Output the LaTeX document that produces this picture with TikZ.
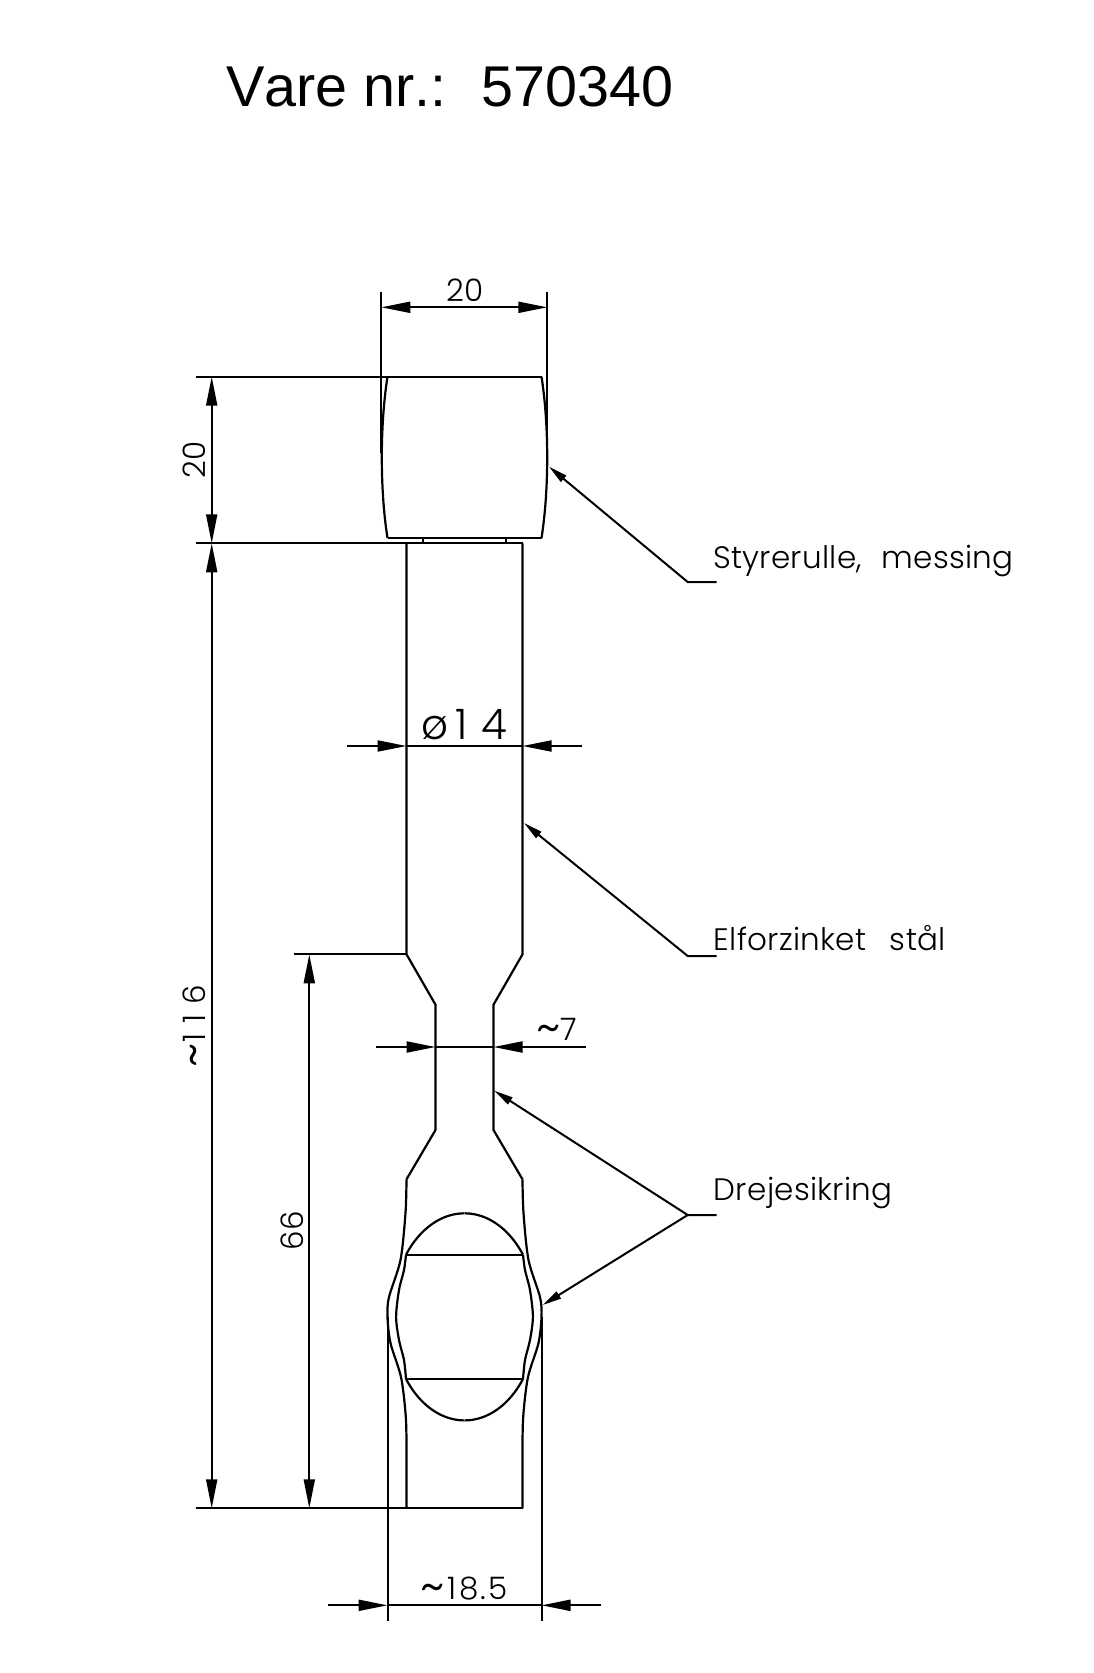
\documentclass[tikz,border=0pt]{standalone}
\usepackage{fontspec}
\setmainfont[LetterSpace=1]{Poppins Light}
\newfontfamily\titlefont[Kerning=Off]{Liberation Sans}
\usetikzlibrary{arrows.meta}
\newcommand{\tildemark}{\raisebox{-4pt}{\fontsize{50}{50}\selectfont\char`\~}}
\tikzset{
    part/.style={line width=2.2pt, line join=miter},
    dimline/.style={line width=2pt, {Triangle[length=29pt,width=11pt]}-{Triangle[length=29pt,width=11pt]}},
    dimtip/.style={line width=2pt, -{Triangle[length=29pt,width=11pt]}},
    leader/.style={line width=2pt, -{Triangle[length=19pt,width=8pt]}},
    extline/.style={line width=2pt},
    dimtext/.style={font=\fontsize{31}{31}\selectfont, inner sep=0pt, anchor=base},
    calltext/.style={font=\fontsize{31}{31}\selectfont, inner sep=0pt, anchor=base west}
}
\begin{document}
\begin{tikzpicture}[x=1pt, y=-1pt]
    \useasboundingbox (0,0) rectangle (1093,1673);

    \node[inner sep=0pt, anchor=base west, font=\titlefont\fontsize{57.5}{57.5}\selectfont] (title) at (226,106.7) {Vare nr.:\ \ \kern3pt570340};

    % roller, shaft and eye are mirrored about the axis
    \foreach \s in {1,-1} {
        \begin{scope}[shift={(464.5,0)}, xscale=\s]
            \draw[part] (77,376.7) .. controls (84.6,425) and (84.6,490) .. (77,538);
            \draw[part] (41.5,538) -- (41.5,543.3);
            \draw[part] (58,543.3) -- (58,954.3) -- (29,1004.7) -- (29,1130) -- (58,1179.3);
            \draw[part] plot[smooth] coordinates {(58,1179.3) (59,1213) (64,1260) (75.5,1297) (77,1317) (74,1343) (63.5,1377) (59,1413) (58,1443) (58,1508.3)};
            \draw[part] plot[smooth] coordinates {(58.5,1254.7) (60.5,1270) (65.5,1290) (68.4,1316.7) (65.5,1340) (60.5,1360) (58.5,1379)};
            \draw[part] (58.5,1254.7) arc[start angle=-36.87, end angle=-90, x radius=73, y radius=103.5];
            \draw[part] (58.5,1379) arc[start angle=36.87, end angle=90, x radius=73, y radius=103.5];
        \end{scope}
    }
    \draw[part] (387.5,538) -- (541.5,538);
    \draw[part] (406,1254.7) -- (523,1254.7);
    \draw[part] (406,1379) -- (523,1379);

    % extension lines
    \draw[extline] (195.7,376.7) -- (541.5,376.7);
    \draw[extline] (195.7,543.3) -- (522.5,543.3);
    \draw[extline] (195.7,1508.3) -- (522.5,1508.3);
    \draw[extline] (294,954.3) -- (406.5,954.3);
    \draw[extline] (381.3,291.7) -- (381.3,453);
    \draw[extline] (547.3,291.7) -- (547.3,453);
    \draw[extline] (387.5,1317) -- (387.5,1621.3);
    \draw[extline] (541.5,1317) -- (541.5,1621.3);

    % dimensions
    \coordinate (topA) at (381.3,307.3);
    \coordinate (topB) at (547.3,307.3);
    \draw[dimline] (topA) -- (topB);
    \node[dimtext] (widthlabel) at (464.7,301.7) {20};

    \coordinate (sideA) at (211.7,376.7);
    \coordinate (sideB) at (211.7,543.3);
    \coordinate (sideC) at (211.7,1508.3);
    \draw[dimline] (sideA) -- (sideB);
    \draw[dimline] (sideB) -- (sideC);
    \node[dimtext, rotate=90] (heightlabel) at (205,460) {20};
    \node[dimtext, rotate=90] (lengthlabel) at (205,1026) {\tildemark1\,\,1\,\,6};

    \coordinate (neckA) at (309.3,954.3);
    \coordinate (neckB) at (309.3,1508.3);
    \draw[dimline] (neckA) -- (neckB);
    \node[dimtext, rotate=90] (neckheight) at (303,1231) {66};

    \coordinate (diaA) at (347,746);
    \coordinate (diaB) at (406.5,746);
    \coordinate (diaC) at (522.5,746);
    \coordinate (diaD) at (581.7,746);
    \draw[dimtip] (diaA) -- (diaB);
    \draw[extline] (diaB) -- (diaC);
    \draw[dimtip] (diaD) -- (diaC);
    \node[dimtext, font=\fontsize{42}{42}\selectfont] (dialabel) at (464.5,739.3) {ø\,1\,\,4};

    \coordinate (waistA) at (376,1047);
    \coordinate (waistB) at (435.5,1047);
    \coordinate (waistC) at (493.5,1047);
    \coordinate (waistD) at (585.7,1047);
    \draw[dimtip] (waistA) -- (waistB);
    \draw[extline] (waistB) -- (waistC);
    \draw[dimtip] (waistD) -- (waistC);
    \node[dimtext] (waistlabel) at (557,1040) {\tildemark7};

    \coordinate (baseA) at (328.3,1605.3);
    \coordinate (baseB) at (387.5,1605.3);
    \coordinate (baseC) at (541.5,1605.3);
    \coordinate (baseD) at (600.7,1605.3);
    \draw[dimtip] (baseA) -- (baseB);
    \draw[extline] (baseB) -- (baseC);
    \draw[dimtip] (baseD) -- (baseC);
    \node[dimtext] (baselabel) at (464.5,1599) {\tildemark\kern2.4pt 1\kern2.4pt 8\kern2.4pt .\kern2.4pt 5};

    % callouts
    \coordinate (rollerknee) at (687.7,582);
    \coordinate (rollerend) at (716.7,582);
    \coordinate (rollertip) at (549,466.7);
    \draw[leader] (rollerend) -- (rollerknee) -- (rollertip);
    \node[calltext] (rollerlabel) at (713,568) {Styrerulle,\ \ \kern2pt messing};

    \coordinate (steelknee) at (687.7,956);
    \coordinate (steelend) at (716.7,956);
    \coordinate (steeltip) at (524,823);
    \draw[leader] (steelend) -- (steelknee) -- (steeltip);
    \node[calltext] (steellabel) at (713.5,950) {Elforzinket\ \ \kern6pt stål};

    \coordinate (lockknee) at (687.7,1215);
    \coordinate (lockend) at (716.7,1215);
    \coordinate (locktipA) at (494.3,1090.7);
    \coordinate (locktipB) at (542.7,1305);
    \draw[leader] (lockend) -- (lockknee) -- (locktipA);
    \draw[leader] (lockknee) -- (locktipB);
    \node[calltext] (locklabel) at (713.5,1200.7) {Drejesikring};
\end{tikzpicture}
\end{document}
